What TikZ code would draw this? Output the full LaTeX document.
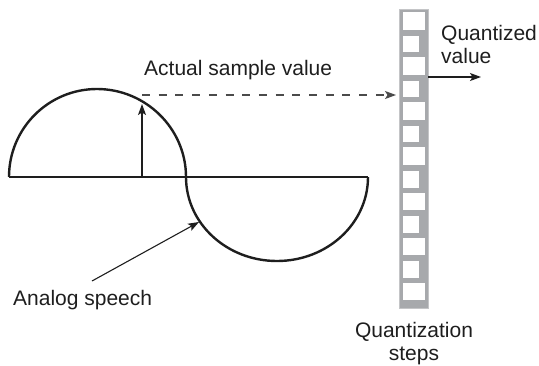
\documentclass[tikz,border=0pt]{standalone}
\usepackage{fontspec}
\setmainfont{Liberation Sans}
\usetikzlibrary{arrows.meta}
\definecolor{ladgray}{RGB}{167,169,172}
\definecolor{ladlight}{RGB}{196,197,199}
\definecolor{ink}{RGB}{30,30,30}
\begin{document}
\begin{tikzpicture}[x=1pt,y=-1pt,
  lbl/.style={inner sep=0pt,font=\fontsize{21}{23}\selectfont,text=ink},
  wave/.style={line width=2.4pt,draw=ink},
  axisline/.style={line width=2pt,draw=ink},
  arr/.style={line width=1.1pt,draw=ink,-{Stealth[length=11pt,width=8pt,inset=2.5pt]}},
  dsh/.style={line width=1.1pt,draw=ink!80,dash pattern=on 8pt off 8.7pt,-{Stealth[length=11pt,width=8pt,inset=2.5pt]}},
  widebox/.style={fill=white,draw=none},
]
\useasboundingbox (0,0) rectangle (539,365);
% coordinates
\coordinate (wl) at (9,177);
\coordinate (wtop) at (97,89);
\coordinate (wmid) at (186,177);
\coordinate (wbot) at (277,261);
\coordinate (wr) at (368,177);
\coordinate (vbase) at (142,177);
\coordinate (vtip) at (142,104);
\coordinate (dstart) at (142,95);
\coordinate (dend) at (396,95);
\coordinate (qstart) at (428,77);
\coordinate (qend) at (481,77);
\coordinate (astart) at (92,281);
\coordinate (aend) at (199,222);
% axis
\draw[axisline] (wl) -- (wr);
% wave
\draw[wave] (wl) .. controls (9,128.4) and (48.4,89) .. (wtop)
  .. controls (145.6,89) and (186,128.4) .. (wmid)
  .. controls (186,223.4) and (226.7,261) .. (wbot)
  .. controls (327.3,261) and (368,223.4) .. (wr);
% ladder
\fill[ladgray,draw=ladlight,line width=1pt] (399,9) rectangle (428,308);
\foreach \i in {0,2,...,12} {
  \fill[white] (402.5,{12+22.58*\i}) rectangle (425,{29.5+22.58*\i});
}
\foreach \i in {1,3,...,11} {
  \fill[white] (402.5,{13+22.58*\i}) rectangle (419.3,{29.5+22.58*\i});
}
% arrows
\draw[arr] (vbase) -- (vtip);
\draw[dsh] (dstart) -- (dend);
\draw[arr] (qstart) -- (qend);
\draw[arr] (astart) -- (aend);
% labels
\node[lbl,anchor=base west] (actual) at (144,75) {Actual sample value};
\node[lbl,anchor=base west] (analog) at (13,305) {Analog speech};
\node[lbl,anchor=base west] (quant1) at (441,40) {Quantized};
\node[lbl,anchor=base west] (quant2) at (441,63) {value};
\node[lbl,anchor=base] (steps1) at (414,337) {Quantization};
\node[lbl,anchor=base] (steps2) at (414,360) {steps};
\end{tikzpicture}
\end{document}
